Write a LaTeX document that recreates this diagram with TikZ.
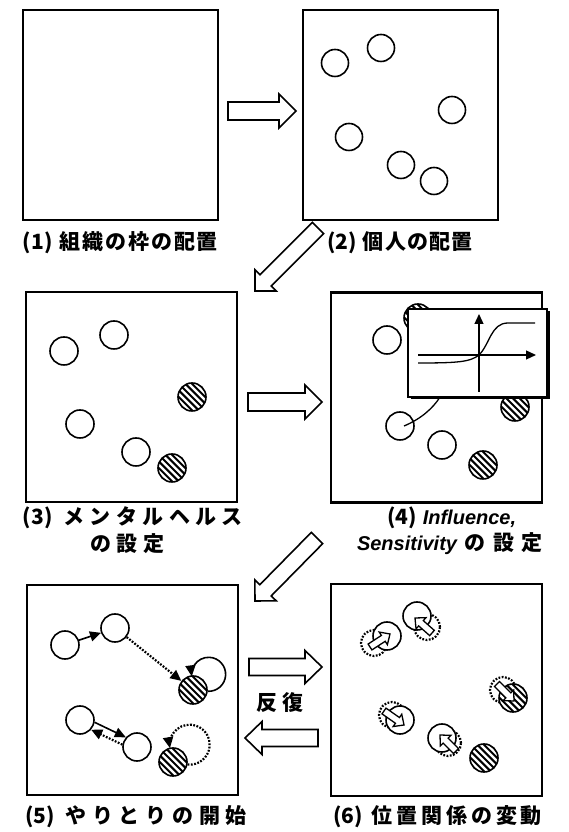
\documentclass[tikz,border=0pt]{standalone}
\usepackage{fontspec}
\setmainfont{Noto Sans CJK JP}
\newfontfamily\latinsans{Liberation Sans}
\usetikzlibrary{calc,arrows.meta}

\tikzset{
  x=1pt, y=1pt,
  frame/.style={draw, line width=2.2pt, inner sep=0pt, minimum height=210pt},
  person/.style={circle, draw, line width=1.6pt, minimum size=28pt, inner sep=0pt, fill=white},
  hatched/.style={person, path picture={
      \foreach \k in {-7,...,7}{
        \draw[line width=2pt]
          ([shift={(\k*3.3-22,\k*3.3+22)}]path picture bounding box.center) -- ++(44,-44);
      }}},
  ghost/.style={circle, draw, line width=2.2pt, dash pattern=on 1.8pt off 1.5pt,
      minimum size=26pt, inner sep=0pt},
  arrowshape/.style={draw, line width=1.6pt, fill=white, line join=miter},
  smallarrow/.style={draw, line width=1.3pt, fill=white, line join=miter},
  link/.style={line width=1.6pt, -{Triangle[length=11pt,width=10pt]}},
  dotlink/.style={line width=2.2pt, dash pattern=on 1.8pt off 1.5pt,
      -{Triangle[length=11pt,width=10pt]}},
  lab/.style={inner sep=0pt, font=\fontsize{21pt}{24pt}\selectfont\bfseries},
}

% block arrow from tail #2 to tip #3: half body width #4, half head width #5, head length #6
\newcommand\blockarrow[6][arrowshape]{%
  \coordinate (bahead) at ($(#3)!#6!(#2)$);
  \draw[#1] ($(#2)!#4!90:(#3)$) -- ($(bahead)!#4!90:(#3)$) -- ($(bahead)!#5!90:(#3)$)
    -- (#3) -- ($(bahead)!#5!-90:(#3)$) -- ($(bahead)!#4!-90:(#3)$)
    -- ($(#2)!#4!-90:(#3)$) -- cycle;
}
% evenly spread characters over a given width
\newcommand\spreadbox[2]{\makebox[#1][s]{#2}}
\newcommand\gap{\hfill}
\newcommand\numgap{\hspace{5pt}\hfill}
\newcommand\latinit[1]{{\latinsans\fontsize{20pt}{24pt}\selectfont\bfseries\itshape #1}}

\begin{document}
\begin{tikzpicture}
\useasboundingbox (0,0) rectangle (568,832);

% ---------- frames ----------
\node[frame, minimum width=195pt] (p1) at (120.5,717) {};
\node[frame, minimum width=195pt] (p2) at (400.5,717) {};
\node[frame, minimum width=211pt] (p3) at (131.5,435) {};
\node[frame, minimum width=211pt] (p4) at (436.5,434.5) {};
\node[frame, minimum width=211pt] (p5) at (132.5,142) {};
\node[frame, minimum width=211pt, minimum height=212pt] (p6) at (436.5,142) {};

% ---------- (2) individuals ----------
\begin{scope}[person/.append style={minimum size=27pt}]
\node[person] (b1) at (335,769) {};
\node[person] (b2) at (381,784) {};
\node[person] (b3) at (452,722) {};
\node[person] (b4) at (349,695) {};
\node[person] (b5) at (401,667) {};
\node[person] (b6) at (434,651) {};
\end{scope}

% ---------- (3) mental health ----------
\node[person]  (c1) at (64,481) {};
\node[person]  (c2) at (114,497) {};
\node[person]  (c3) at (80,408) {};
\node[person]  (c4) at (136,380) {};
\node[hatched] (c5) at (192,435) {};
\node[hatched] (c6) at (172,364) {};

% ---------- (4) influence / sensitivity ----------
\node[person]  (d1) at (387,492) {};
\node[hatched] (d2) at (418,514) {};
\node[person]  (d3) at (400,406) {};
\node[person]  (d4) at (442,387) {};
\node[hatched] (d5) at (483,367) {};
\node[hatched] (d6) at (515,425) {};

\fill ($(408,435)+(2.5,-2.5)$) rectangle ($(547,523)+(2.5,-2.5)$);
\node[draw, fill=white, line width=1.3pt, minimum width=139pt, minimum height=88pt,
      inner sep=0pt] (inset) at (477.5,479) {};
\coordinate (ox) at (418,477);
\coordinate (ex) at (536,477);
\coordinate (oy) at (479,440);
\coordinate (ey) at (479,518);
\draw[line width=1.3pt, -{Triangle[length=10pt,width=9pt]}] (ox) -- (ex);
\draw[line width=1.3pt, -{Triangle[length=10pt,width=9pt]}] (oy) -- (ey);
\draw[line width=1.3pt] (418,469) .. controls (458,469) and (470,470) .. (479,477)
  .. controls (490,488) and (491,509) .. (508,509) -- (535,509);
\draw[line width=1.3pt] ($(inset.south west)!0.23!(inset.south east)$)
  .. controls (433,424) and (421,413) .. ([xshift=4pt]d3.center);

% ---------- (5) interaction ----------
\node[person]  (e1) at (65,187) {};
\node[person]  (e2) at (115,204) {};
\node[hatched] (e3) at (193,142) {};
\node[person]  (e4) at (80,112) {};
\node[person]  (e5) at (137,85) {};
\node[hatched] (e6) at (173,70) {};

\draw[link] (e1.19) -- (e2.199);
\draw[dotlink] (e2.-38) -- (e3.142);
\draw[link] (e4.-9) -- (e5.139);
\draw[dotlink] (e5.171) -- (e4.-41);
\draw[link] (e3.-5) arc[start angle=-93, end angle=187, radius=17];
\draw[dotlink] (e6.-10) arc[start angle=-96, end angle=190, radius=20];

% ---------- (6) change of positions ----------
\node[ghost] (g1) at (374,189) {};
\node[ghost] (g2) at (427,205) {};
\node[ghost] (g3) at (503,142) {};
\node[ghost] (g4) at (392,117) {};
\node[ghost] (g5) at (448,89) {};

\node[person]  (f1) at (387,196) {};
\node[person]  (f2) at (417,216) {};
\node[hatched] (f3) at (513,134) {};
\node[person]  (f4) at (400,112) {};
\node[person]  (f5) at (442,94) {};
\node[hatched] (f6) at (484,74) {};

\coordinate (m1t) at (370,185); \coordinate (m1h) at (390,198);
\coordinate (m2t) at (432,199); \coordinate (m2h) at (415,214);
\coordinate (m3t) at (497,148); \coordinate (m3h) at (514,131);
\coordinate (m4t) at (384,121); \coordinate (m4h) at (404,107);
\coordinate (m5t) at (456,81);  \coordinate (m5h) at (440,97);
\blockarrow[smallarrow]{m1t}{m1h}{3.5pt}{7.5pt}{8pt}
\blockarrow[smallarrow]{m2t}{m2h}{3.5pt}{7.5pt}{8pt}
\blockarrow[smallarrow]{m3t}{m3h}{3.5pt}{7.5pt}{8pt}
\blockarrow[smallarrow]{m4t}{m4h}{3.5pt}{7.5pt}{8pt}
\blockarrow[smallarrow]{m5t}{m5h}{3.5pt}{7.5pt}{8pt}

% ---------- step arrows ----------
\coordinate (a12t) at (228,721); \coordinate (a12h) at (296,721);
\coordinate (a23t) at (318,604); \coordinate (a23h) at (255,541);
\coordinate (a34t) at (248,430); \coordinate (a34h) at (322,430);
\coordinate (a45t) at (317,294); \coordinate (a45h) at (255,231);
\coordinate (a56t) at (249,165); \coordinate (a56h) at (322,165);
\coordinate (a65t) at (318,94);  \coordinate (a65h) at (245,94);
\blockarrow{a12t}{a12h}{9pt}{17pt}{17pt}
\blockarrow{a23t}{a23h}{8pt}{15pt}{15pt}
\blockarrow{a34t}{a34h}{9pt}{17pt}{17pt}
\blockarrow{a45t}{a45h}{8pt}{15pt}{15pt}
\blockarrow{a56t}{a56h}{8.5pt}{16.5pt}{17pt}
\blockarrow{a65t}{a65h}{8.5pt}{16.5pt}{17pt}

% ---------- captions ----------
\node[lab] (l1) at (120.5,589) {\spreadbox{195pt}{(1)\numgap 組\gap 織\gap の\gap 枠\gap の\gap 配\gap 置}};
\node[lab] (l2) at (400,589) {\spreadbox{146pt}{(2)\numgap 個\gap 人\gap の\gap 配\gap 置}};
\node[lab] (l3a) at (133,314) {\spreadbox{220pt}{(3)\numgap メ\gap ン\gap タ\gap ル\gap ヘ\gap ル\gap ス}};
\node[lab] (l3b) at (127.5,288) {\spreadbox{75pt}{の\gap 設\gap 定}};
\node[lab, anchor=west] (l4a) at (387,314) {(4)\hspace{6pt}\latinit{Influence,}};
\node[lab] (l4b) at (450,288) {\spreadbox{186pt}{\latinit{Sensitivity}\gap の\gap 設\gap 定}};
\node[lab] (l5) at (136,15) {\spreadbox{222pt}{(5)\numgap や\gap り\gap と\gap り\gap の\gap 開\gap 始}};
\node[lab] (l6) at (437.5,15) {\spreadbox{209pt}{(6)\numgap 位\gap 置\gap 関\gap 係\gap の\gap 変\gap 動}};
\node[lab] (rep) at (280,129) {\spreadbox{48pt}{反\gap 復}};
\end{tikzpicture}
\end{document}
